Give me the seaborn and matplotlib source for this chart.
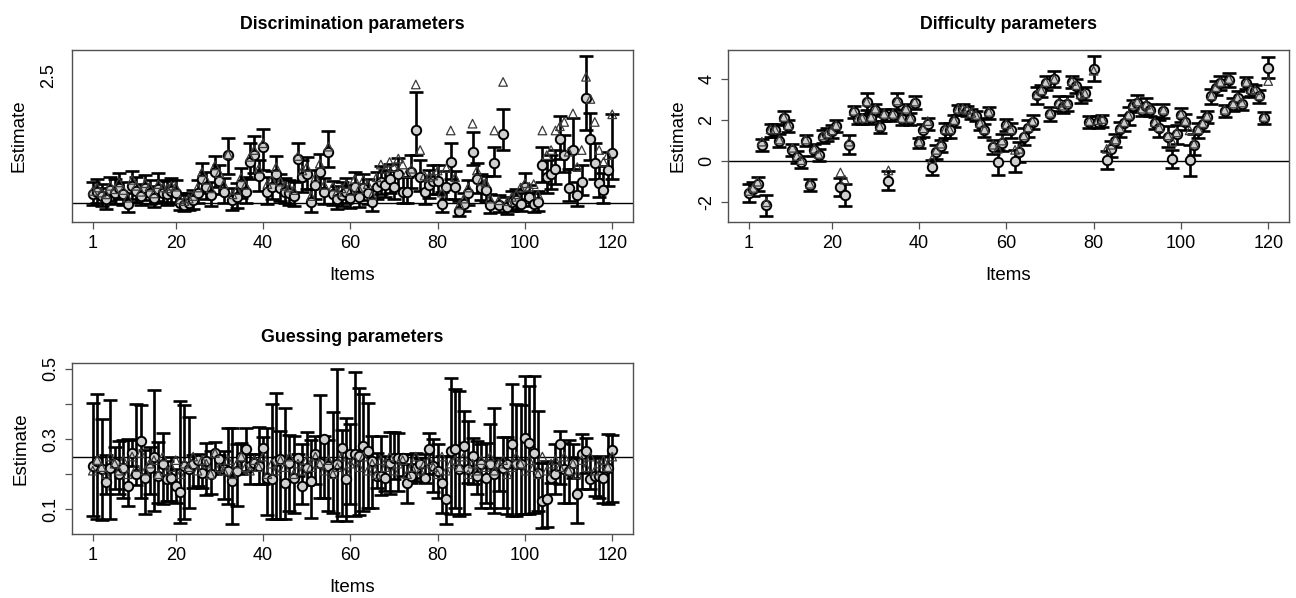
import matplotlib
matplotlib.use("Agg")
import matplotlib.pyplot as plt
import pandas as pd
import seaborn as sns

items = list(range(1, 121))
xtick_vals = [1, 20, 40, 60, 80, 100, 120]

# ---- Discrimination parameters: estimate, CI lower, CI upper, true value ----
disc_est = [1.10, 1.13, 1.08, 1.04, 1.15, 1.12, 1.18, 1.10, 0.99, 1.20,
            1.14, 1.08, 1.17, 1.12, 1.06, 1.16, 1.12, 1.10, 1.14, 1.12,
            1.00, 0.97, 1.00, 1.03, 1.12, 1.28, 1.19, 1.09, 1.36, 1.26,
            1.13, 1.56, 1.03, 1.07, 1.22, 1.13, 1.48, 1.56, 1.31, 1.66,
            1.13, 1.19, 1.34, 1.17, 1.13, 1.11, 1.08, 1.52, 1.30, 1.34,
            1.01, 1.21, 1.36, 1.13, 1.60, 1.10, 1.05, 1.09, 1.13, 1.06,
            1.19, 1.07, 1.17, 1.12, 1.01, 1.19, 1.25, 1.21, 1.28, 1.19,
            1.34, 1.13, 1.13, 1.36, 1.85, 1.30, 1.13, 1.21, 1.26, 1.26,
            0.99, 1.19, 1.48, 1.19, 0.91, 0.99, 1.11, 1.60, 1.28, 1.17,
            1.15, 0.97, 1.47, 0.97, 1.81, 0.95, 1.01, 1.03, 0.99, 1.19,
            1.07, 0.99, 1.01, 1.44, 1.30, 1.34, 1.40, 1.75, 1.56, 1.17,
            1.62, 1.09, 1.25, 2.23, 1.75, 1.47, 1.23, 1.15, 1.38, 1.59]
disc_lo = [0.98, 1.00, 0.96, 0.93, 1.02, 0.99, 1.04, 0.98, 0.89, 1.05,
           1.01, 0.97, 1.03, 0.99, 0.95, 1.02, 1.00, 0.98, 1.01, 0.99,
           0.92, 0.91, 0.92, 0.93, 1.00, 1.12, 1.05, 0.96, 1.19, 1.10,
           1.00, 1.34, 0.92, 0.94, 1.06, 1.00, 1.28, 1.35, 1.14, 1.38,
           0.99, 1.04, 1.16, 1.02, 1.00, 0.98, 0.96, 1.26, 1.13, 1.16,
           0.89, 1.05, 1.18, 0.99, 1.42, 0.97, 0.93, 0.96, 1.00, 0.94,
           1.04, 0.95, 1.03, 0.99, 0.91, 1.05, 1.10, 1.07, 1.12, 1.05,
           1.17, 1.00, 1.00, 1.18, 1.56, 1.14, 0.99, 1.06, 1.10, 1.10,
           0.89, 1.04, 1.28, 1.04, 0.85, 0.90, 0.98, 1.44, 1.12, 1.03,
           1.01, 0.88, 1.32, 0.89, 1.62, 0.87, 0.91, 0.93, 0.90, 1.05,
           0.96, 0.89, 0.91, 1.24, 1.12, 1.16, 1.22, 1.52, 1.36, 1.02,
           1.40, 0.96, 1.09, 1.85, 1.50, 1.28, 1.07, 1.00, 1.20, 1.28]
disc_hi = [1.25, 1.28, 1.22, 1.17, 1.30, 1.28, 1.35, 1.25, 1.12, 1.37,
           1.30, 1.22, 1.33, 1.27, 1.20, 1.35, 1.27, 1.26, 1.29, 1.27,
           1.12, 1.09, 1.12, 1.15, 1.27, 1.47, 1.36, 1.25, 1.55, 1.45,
           1.29, 1.76, 1.17, 1.23, 1.41, 1.30, 1.70, 1.78, 1.50, 1.87,
           1.30, 1.37, 1.55, 1.34, 1.29, 1.27, 1.24, 1.70, 1.50, 1.54,
           1.16, 1.39, 1.57, 1.29, 1.84, 1.26, 1.20, 1.24, 1.29, 1.21,
           1.36, 1.22, 1.34, 1.28, 1.15, 1.36, 1.43, 1.39, 1.46, 1.37,
           1.53, 1.30, 1.30, 1.56, 2.30, 1.50, 1.30, 1.39, 1.45, 1.45,
           1.13, 1.37, 1.70, 1.37, 1.02, 1.11, 1.27, 1.83, 1.47, 1.34,
           1.32, 1.10, 1.66, 1.09, 2.10, 1.07, 1.14, 1.16, 1.11, 1.35,
           1.21, 1.12, 1.14, 1.66, 1.50, 1.56, 1.62, 2.02, 1.80, 1.40,
           2.00, 1.25, 1.45, 2.72, 2.05, 1.70, 1.43, 1.35, 1.60, 2.04]
disc_true = [1.14, 1.18, 1.12, 1.10, 1.20, 1.16, 1.24, 1.15, 1.06, 1.27,
             1.20, 1.13, 1.23, 1.19, 1.11, 1.22, 1.18, 1.17, 1.20, 1.19,
             1.04, 1.02, 1.05, 1.08, 1.18, 1.36, 1.27, 1.17, 1.44, 1.35,
             1.22, 1.57, 1.10, 1.15, 1.30, 1.21, 1.54, 1.62, 1.40, 1.70,
             1.22, 1.27, 1.42, 1.25, 1.20, 1.18, 1.15, 1.55, 1.38, 1.42,
             1.08, 1.30, 1.46, 1.21, 1.66, 1.19, 1.13, 1.17, 1.22, 1.14,
             1.28, 1.16, 1.27, 1.22, 1.09, 1.30, 1.45, 1.40, 1.48, 1.42,
             1.52, 1.45, 1.35, 1.40, 2.39, 1.62, 1.32, 1.30, 1.32, 1.38,
             1.12, 1.41, 1.85, 1.30, 0.98, 1.05, 1.18, 1.93, 1.38, 1.26,
             1.24, 1.05, 1.85, 1.03, 2.42, 1.02, 1.07, 1.10, 1.18, 1.23,
             1.19, 1.22, 1.10, 1.85, 1.56, 1.62, 1.85, 1.90, 1.95, 1.60,
             2.05, 1.42, 1.62, 2.48, 2.22, 1.95, 1.62, 1.48, 1.56, 2.04]

# ---- Difficulty parameters: estimate, CI half-width, true value ----
diff_est = [-1.55, -1.35, -1.10, 0.80, -2.15, 1.50, 1.50, 1.00, 2.10, 1.70,
            0.55, 0.20, -0.05, 1.00, -1.15, 0.55, 0.30, 1.20, 1.30, 1.45,
            1.70, -1.25, -1.65, 0.80, 2.40, 2.05, 2.05, 2.90, 2.10, 2.50,
            1.65, 2.25, -0.95, 2.25, 2.90, 2.05, 2.50, 2.05, 2.85, 0.90,
            1.50, 1.80, -0.30, 0.45, 0.75, 1.50, 1.50, 1.95, 2.50, 2.55,
            2.45, 2.30, 2.20, 1.80, 1.50, 2.35, 0.70, -0.05, 0.90, 1.75,
            1.50, 0.00, 0.45, 1.20, 1.60, 1.90, 3.20, 3.40, 3.80, 2.30,
            4.00, 2.80, 2.65, 2.80, 3.85, 3.65, 3.20, 3.30, 1.90, 4.50,
            1.90, 1.95, 0.05, 0.60, 1.00, 1.55, 1.85, 2.20, 2.70, 2.85,
            2.50, 2.70, 2.50, 1.85, 1.60, 2.45, 1.20, 0.10, 1.30, 2.25,
            1.90, 0.05, 0.80, 1.50, 1.80, 2.15, 3.15, 3.55, 3.80, 2.45,
            3.95, 2.75, 3.05, 2.80, 3.80, 3.45, 3.40, 3.15, 2.10, 4.55]
diff_hw = [0.42, 0.35, 0.35, 0.30, 0.50, 0.30, 0.30, 0.30, 0.35, 0.30,
           0.30, 0.30, 0.30, 0.25, 0.30, 0.30, 0.30, 0.30, 0.30, 0.30,
           0.30, 0.45, 0.55, 0.45, 0.30, 0.25, 0.25, 0.40, 0.30, 0.30,
           0.30, 0.30, 0.45, 0.30, 0.40, 0.30, 0.30, 0.30, 0.30, 0.25,
           0.30, 0.30, 0.35, 0.35, 0.30, 0.35, 0.35, 0.30, 0.25, 0.25,
           0.25, 0.25, 0.25, 0.30, 0.30, 0.30, 0.35, 0.60, 0.40, 0.30,
           0.35, 0.55, 0.50, 0.40, 0.40, 0.35, 0.40, 0.30, 0.35, 0.35,
           0.40, 0.35, 0.30, 0.35, 0.30, 0.35, 0.35, 0.30, 0.30, 0.60,
           0.30, 0.30, 0.45, 0.40, 0.30, 0.35, 0.40, 0.45, 0.30, 0.35,
           0.30, 0.35, 0.30, 0.30, 0.40, 0.35, 0.50, 0.45, 0.45, 0.35,
           0.40, 0.75, 0.50, 0.35, 0.35, 0.30, 0.35, 0.35, 0.35, 0.30,
           0.35, 0.30, 0.35, 0.30, 0.30, 0.30, 0.30, 0.30, 0.30, 0.50]
diff_true = [-1.45, -1.30, -1.00, 0.95, -2.00, 1.55, 1.55, 1.05, 2.15, 1.75,
             0.65, 0.25, 0.05, 1.05, -1.10, 0.60, 0.35, 1.25, 1.35, 1.50,
             1.75, -0.55, -0.90, 0.95, 2.45, 2.10, 2.10, 2.90, 2.15, 2.55,
             1.70, 2.30, -0.45, 2.30, 2.95, 2.10, 2.55, 2.10, 2.90, 0.95,
             1.60, 1.95, 0.10, 0.55, 0.85, 1.55, 1.55, 2.00, 2.55, 2.55,
             2.50, 2.35, 2.25, 1.85, 1.55, 2.40, 0.80, 0.60, 1.00, 1.80,
             1.55, 0.55, 0.60, 1.25, 1.65, 1.95, 3.25, 3.45, 3.85, 2.35,
             4.00, 2.85, 2.70, 2.85, 3.90, 3.70, 3.25, 3.30, 1.95, 4.40,
             2.00, 2.05, 0.60, 0.80, 1.05, 1.60, 1.90, 2.25, 2.75, 2.90,
             2.55, 2.75, 2.55, 1.90, 1.65, 2.50, 1.25, 0.95, 1.40, 2.30,
             1.95, 1.50, 0.85, 1.55, 1.85, 2.20, 3.20, 3.60, 3.85, 2.50,
             4.00, 2.80, 3.10, 2.85, 3.85, 3.50, 3.45, 3.20, 2.15, 3.90]

# ---- Guessing parameters: estimate, CI lower, CI upper, true value ----
gues_est = [0.223, 0.237, 0.214, 0.179, 0.218, 0.233, 0.200, 0.219, 0.166, 0.261,
            0.200, 0.294, 0.190, 0.219, 0.249, 0.195, 0.228, 0.185, 0.188, 0.166,
            0.148, 0.223, 0.214, 0.228, 0.240, 0.204, 0.238, 0.200, 0.261, 0.242,
            0.214, 0.209, 0.181, 0.209, 0.249, 0.271, 0.223, 0.233, 0.223, 0.275,
            0.190, 0.185, 0.238, 0.242, 0.176, 0.233, 0.190, 0.247, 0.166, 0.219,
            0.181, 0.256, 0.233, 0.299, 0.223, 0.204, 0.228, 0.275, 0.185, 0.256,
            0.256, 0.252, 0.280, 0.266, 0.238, 0.195, 0.195, 0.190, 0.233, 0.247,
            0.247, 0.247, 0.176, 0.195, 0.219, 0.228, 0.190, 0.271, 0.223, 0.209,
            0.176, 0.129, 0.266, 0.271, 0.214, 0.280, 0.214, 0.252, 0.195, 0.228,
            0.190, 0.228, 0.200, 0.228, 0.219, 0.228, 0.285, 0.228, 0.228, 0.304,
            0.290, 0.261, 0.204, 0.124, 0.129, 0.190, 0.200, 0.285, 0.214, 0.209,
            0.233, 0.145, 0.256, 0.266, 0.185, 0.195, 0.195, 0.190, 0.219, 0.270]
gues_lo = [0.081, 0.072, 0.069, 0.143, 0.072, 0.157, 0.143, 0.133, 0.110, 0.223,
           0.170, 0.133, 0.086, 0.143, 0.095, 0.119, 0.114, 0.124, 0.124, 0.119,
           0.062, 0.072, 0.103, 0.162, 0.166, 0.162, 0.141, 0.143, 0.200, 0.210,
           0.129, 0.114, 0.058, 0.110, 0.200, 0.209, 0.171, 0.214, 0.171, 0.171,
           0.084, 0.072, 0.072, 0.072, 0.072, 0.095, 0.091, 0.195, 0.116, 0.169,
           0.075, 0.171, 0.133, 0.133, 0.095, 0.091, 0.067, 0.081, 0.067, 0.116,
           0.081, 0.083, 0.095, 0.105, 0.105, 0.162, 0.141, 0.152, 0.143, 0.185,
           0.152, 0.195, 0.119, 0.176, 0.181, 0.190, 0.176, 0.200, 0.148, 0.133,
           0.091, 0.058, 0.086, 0.105, 0.081, 0.086, 0.176, 0.171, 0.143, 0.105,
           0.119, 0.105, 0.091, 0.152, 0.105, 0.086, 0.081, 0.081, 0.086, 0.086,
           0.086, 0.091, 0.095, 0.048, 0.050, 0.176, 0.143, 0.171, 0.119, 0.119,
           0.190, 0.062, 0.157, 0.204, 0.157, 0.138, 0.133, 0.119, 0.114, 0.120]
gues_hi = [0.403, 0.429, 0.358, 0.255, 0.410, 0.277, 0.294, 0.296, 0.299, 0.296,
           0.400, 0.398, 0.268, 0.277, 0.438, 0.292, 0.318, 0.238, 0.249, 0.214,
           0.408, 0.397, 0.362, 0.255, 0.258, 0.238, 0.290, 0.266, 0.292, 0.255,
           0.266, 0.330, 0.330, 0.287, 0.290, 0.330, 0.256, 0.256, 0.334, 0.306,
           0.332, 0.400, 0.432, 0.323, 0.387, 0.311, 0.309, 0.256, 0.285, 0.321,
           0.296, 0.309, 0.425, 0.309, 0.296, 0.378, 0.498, 0.327, 0.361, 0.342,
           0.491, 0.446, 0.427, 0.403, 0.309, 0.261, 0.309, 0.252, 0.320, 0.320,
           0.318, 0.256, 0.228, 0.256, 0.261, 0.247, 0.256, 0.318, 0.299, 0.285,
           0.252, 0.252, 0.474, 0.441, 0.436, 0.381, 0.351, 0.304, 0.294, 0.285,
           0.290, 0.344, 0.387, 0.247, 0.306, 0.306, 0.457, 0.400, 0.398, 0.479,
           0.451, 0.479, 0.380, 0.233, 0.238, 0.233, 0.285, 0.323, 0.290, 0.296,
           0.285, 0.250, 0.313, 0.304, 0.252, 0.247, 0.249, 0.252, 0.313, 0.310]
gues_true = [0.21, 0.24, 0.22, 0.20, 0.25, 0.23, 0.21, 0.24, 0.20, 0.25,
             0.22, 0.26, 0.21, 0.23, 0.24, 0.20, 0.25, 0.21, 0.22, 0.24,
             0.20, 0.23, 0.22, 0.25, 0.21, 0.24, 0.23, 0.20, 0.26, 0.22,
             0.21, 0.24, 0.20, 0.23, 0.25, 0.22, 0.21, 0.24, 0.22, 0.25,
             0.20, 0.23, 0.21, 0.24, 0.22, 0.25, 0.20, 0.23, 0.21, 0.24,
             0.22, 0.25, 0.23, 0.21, 0.24, 0.20, 0.22, 0.25, 0.21, 0.23,
             0.24, 0.22, 0.25, 0.21, 0.23, 0.20, 0.24, 0.22, 0.25, 0.21,
             0.23, 0.24, 0.20, 0.22, 0.25, 0.21, 0.23, 0.24, 0.22, 0.20,
             0.25, 0.21, 0.23, 0.24, 0.22, 0.25, 0.20, 0.23, 0.21, 0.24,
             0.22, 0.25, 0.21, 0.23, 0.24, 0.20, 0.22, 0.25, 0.23, 0.21,
             0.24, 0.22, 0.20, 0.25, 0.21, 0.23, 0.24, 0.22, 0.25, 0.21,
             0.23, 0.20, 0.24, 0.22, 0.25, 0.21, 0.23, 0.24, 0.22, 0.25]

disc_ref = 1.0
diff_ref = 0.0
gues_ref = 0.25

sns.set_theme(style="white")
plt.rcParams["font.family"] = ["Liberation Sans", "DejaVu Sans"]
plt.rcParams["text.color"] = "black"
plt.rcParams["axes.labelcolor"] = "black"
plt.rcParams["xtick.color"] = "black"
plt.rcParams["ytick.color"] = "black"

W, H = 1296, 598
fig = plt.figure(figsize=(W / 100, H / 100), dpi=100)


def box(l, t, r, b):
    return [l / W, 1 - b / H, (r - l) / W, (b - t) / H]


ax1 = fig.add_axes(box(72, 50, 633, 222))
ax2 = fig.add_axes(box(728, 50, 1289, 222))
ax3 = fig.add_axes(box(72, 363, 633, 534))


def draw_panel(ax, est, lo, hi, true, ref, title):
    df = pd.DataFrame({"item": items, "est": est, "lo": lo, "hi": hi, "true": true})
    ax.errorbar(df["item"], df["est"],
                yerr=[df["est"] - df["lo"], df["hi"] - df["est"]],
                fmt="none", ecolor="black", elinewidth=1.9,
                capsize=4.8, capthick=1.9, zorder=2)
    sns.scatterplot(data=df, x="item", y="est", ax=ax, marker="o", s=46,
                    color="#cfcfcf", edgecolor="black", linewidth=1.4,
                    zorder=3, legend=False)
    sns.scatterplot(data=df, x="item", y="true", ax=ax, marker="^", s=38,
                    facecolor="none", edgecolor="#3a3a3a", linewidth=0.9,
                    zorder=4, legend=False)
    ax.axhline(ref, color="black", lw=1.0, zorder=1)

    span = 120 - 1
    ax.set_xlim(1 - 0.04 * span, 120 + 0.04 * span)
    ymin = min(min(lo), min(true))
    ymax = max(max(hi), max(true))
    r = ymax - ymin
    ax.set_ylim(ymin - 0.04 * r, ymax + 0.04 * r)

    ax.set_xticks(xtick_vals)
    ax.set_xticklabels([str(v) for v in xtick_vals])
    ax.set_title(title, fontsize=12.8, fontweight="bold", pad=15)
    ax.set_xlabel("Items", fontsize=13.5, labelpad=11)
    ax.set_ylabel("Estimate", fontsize=13.5, labelpad=9)
    for sp in ax.spines.values():
        sp.set_color("#505050")
        sp.set_linewidth(1.0)
    ax.tick_params(axis="both", direction="out", length=5, width=0.9,
                   color="#505050", labelcolor="black", labelsize=13, pad=4,
                   bottom=True, left=True)
    for lab in ax.get_yticklabels():
        lab.set_rotation(90)
        lab.set_va("center")


draw_panel(ax1, disc_est, disc_lo, disc_hi, disc_true, disc_ref,
           "Discrimination parameters")
draw_panel(ax2, diff_est,
           [e - h for e, h in zip(diff_est, diff_hw)],
           [e + h for e, h in zip(diff_est, diff_hw)],
           diff_true, diff_ref, "Difficulty parameters")
draw_panel(ax3, gues_est, gues_lo, gues_hi, gues_true, gues_ref,
           "Guessing parameters")

ax1.set_yticks([2.5])
ax1.set_yticklabels(["2.5"], rotation=90, va="center")
ax1.tick_params(axis="y", length=0, pad=11)

ax2.set_yticks([-2, 0, 2, 4])
ax2.set_yticklabels(["-2", "0", "2", "4"], rotation=90, va="center")

ax3.set_yticks([0.1, 0.2, 0.3, 0.4, 0.5])
ax3.set_yticklabels(["0.1", "", "0.3", "", "0.5"], rotation=90, va="center")

fig.savefig("out.png", dpi=100)
